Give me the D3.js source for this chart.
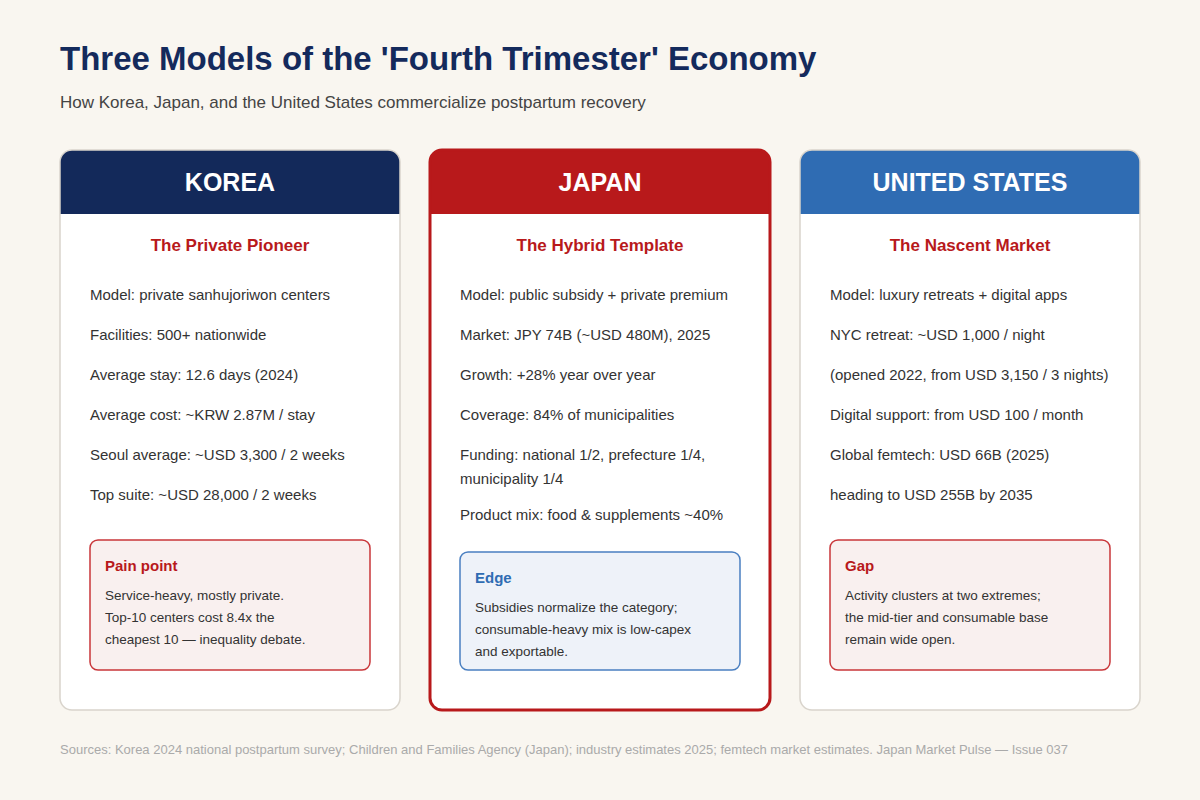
<!DOCTYPE html>
<html><head><meta charset="utf-8">
<script src="https://cdn.jsdelivr.net/npm/d3@7"></script>
<style>body{margin:0;background:#f9f6f0;font-family:"Liberation Sans",Arial,sans-serif}</style>
</head><body><svg id="c" width="1200" height="800"></svg>
<script>
const countries = ["KOREA","JAPAN","UNITED STATES"];
const headerColors = ["#13295a","#b8191b","#2f6cb3"];
const taglines = ["The Private Pioneer","The Hybrid Template","The Nascent Market"];
const koreaItems = ["Model: private sanhujoriwon centers","Facilities: 500+ nationwide","Average stay: 12.6 days (2024)","Average cost: ~KRW 2.87M / stay","Seoul average: ~USD 3,300 / 2 weeks","Top suite: ~USD 28,000 / 2 weeks"];
const japanItems = ["Model: public subsidy + private premium","Market: JPY 74B (~USD 480M), 2025","Growth: +28% year over year","Coverage: 84% of municipalities",["Funding: national 1/2, prefecture 1/4,","municipality 1/4"],"Product mix: food & supplements ~40%"];
const usItems = ["Model: luxury retreats + digital apps","NYC retreat: ~USD 1,000 / night","(opened 2022, from USD 3,150 / 3 nights)","Digital support: from USD 100 / month","Global femtech: USD 66B (2025)","heading to USD 255B by 2035"];
const boxTitles = ["Pain point","Edge","Gap"];
const boxTexts = [["Service-heavy, mostly private.","Top-10 centers cost 8.4x the","cheapest 10 — inequality debate."],
 ["Subsidies normalize the category;","consumable-heavy mix is low-capex","and exportable."],
 ["Activity clusters at two extremes;","the mid-tier and consumable base","remain wide open."]];
const itemsAll=[koreaItems,japanItems,usItems];

const svg=d3.select("#c");
svg.append("text").attr("x",60).attr("y",70).attr("font-size",33).attr("font-weight","bold").attr("fill","#142a5c").text("Three Models of the 'Fourth Trimester' Economy");
svg.append("text").attr("x",60).attr("y",108).attr("font-size",17).attr("fill","#444").text("How Korea, Japan, and the United States commercialize postpartum recovery");

const x=d3.scaleBand().domain(countries).range([60,1140]).paddingInner(30/370).paddingOuter(0);
const y0=150,h=560,hh=64;
countries.forEach((c,i)=>{
  const g=svg.append("g").attr("transform",`translate(${x(c)},0)`);
  const w=x.bandwidth(), isJ=i===1;
  g.append("defs").append("clipPath").attr("id","cl"+i).append("rect").attr("x",0).attr("y",y0).attr("width",w).attr("height",h).attr("rx",12);
  g.append("rect").attr("x",0).attr("y",y0).attr("width",w).attr("height",h).attr("rx",12).attr("fill","#fff");
  g.append("rect").attr("x",0).attr("y",y0).attr("width",w).attr("height",hh).attr("fill",headerColors[i]).attr("clip-path",`url(#cl${i})`);
  g.append("rect").attr("x",0).attr("y",y0).attr("width",w).attr("height",h).attr("rx",12).attr("fill","none")
   .attr("stroke",isJ?"#b8191b":"#d9d4cc").attr("stroke-width",isJ?3:1.5);
  g.append("text").attr("x",w/2).attr("y",y0+41).attr("text-anchor","middle").attr("font-size",25).attr("font-weight","bold").attr("fill","#fff").text(c);
  g.append("text").attr("x",w/2).attr("y",251).attr("text-anchor","middle").attr("font-size",17).attr("font-weight","bold").attr("fill","#b8191b").text(taglines[i]);
  let yy=300;
  itemsAll[i].forEach(it=>{
    const lines=Array.isArray(it)?it:[it];
    lines.forEach((l,k)=>{g.append("text").attr("x",30).attr("y",yy+k*24).attr("font-size",15).attr("fill","#333").text(l);});
    yy+=40+(lines.length-1)*20;
  });
  const by=isJ?552:540, bh=isJ?118:130;
  const blue=isJ;
  g.append("rect").attr("x",30).attr("y",by).attr("width",w-60).attr("height",bh).attr("rx",8)
   .attr("fill",blue?"#eef2f9":"#f9f0ef").attr("stroke",blue?"#4a7fc1":"#c9363a").attr("stroke-width",1.5);
  g.append("text").attr("x",45).attr("y",by+31).attr("font-size",15).attr("font-weight","bold").attr("fill",blue?"#2f6cb3":"#b8191b").text(boxTitles[i]);
  boxTexts[i].forEach((l,k)=>g.append("text").attr("x",45).attr("y",by+60+k*22).attr("font-size",13.5).attr("fill","#333").text(l));
});
svg.append("text").attr("x",60).attr("y",754).attr("font-size",13).attr("fill","#aaa").text("Sources: Korea 2024 national postpartum survey; Children and Families Agency (Japan); industry estimates 2025; femtech market estimates. Japan Market Pulse — Issue 037");
</script></body></html>
